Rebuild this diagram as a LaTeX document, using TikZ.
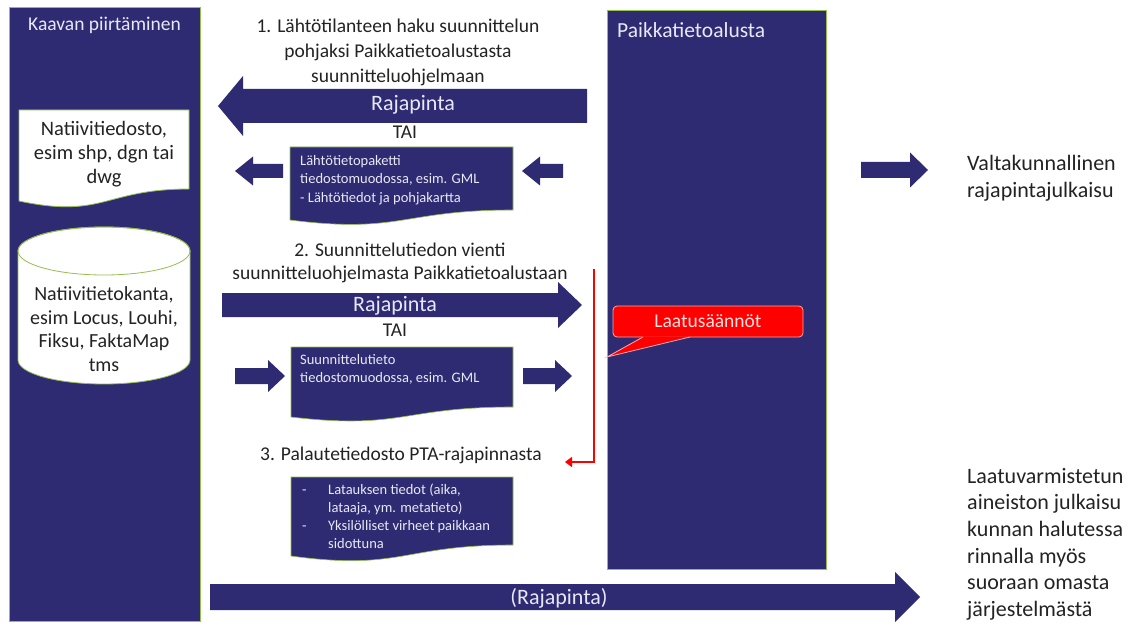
\documentclass[tikz,border=0pt]{standalone}
\usepackage{fontspec}
\setmainfont{Carlito}
\usetikzlibrary{arrows.meta}
\definecolor{navy}{RGB}{46,43,115}
\definecolor{edgegreen}{RGB}{150,190,80}
\definecolor{calloutred}{RGB}{255,0,0}
\definecolor{calloutedge}{RGB}{245,170,170}
\definecolor{txt}{RGB}{35,35,35}
\definecolor{ltxt}{RGB}{232,232,245}
\newcommand\blockarrow[6]{%
  \pgfmathsetmacro\bkx{#2-(#6)*sign(#2-#1)}%
  \fill[navy] (#1,#3-#4) -- (\bkx,#3-#4) -- (\bkx,#3-#5) -- (#2,#3) -- (\bkx,#3+#5) -- (\bkx,#3+#4) -- (#1,#3+#4) -- cycle;}
\newcommand\docpath[7]{% style, x1, x2, top, yright, yleft, c2
  \path[#1] (#2,#4) -- (#3,#4) -- (#3,#5) .. controls ({(#2+#3)/2},#5) and ({(#2+#3)/2},#7) .. (#2,#6) -- cycle;}
\begin{document}
\begin{tikzpicture}[x=1pt,y=-1pt,
  panel/.style={fill=navy,draw=edgegreen,line width=0.7pt},
  whitedoc/.style={fill=white,draw=edgegreen,line width=0.8pt},
  navydoc/.style={fill=navy,draw=edgegreen,line width=0.6pt},
  hdr/.style={inner sep=0pt,align=center,text=txt,font=\fontsize{19.5}{25}\selectfont},
  ptitle/.style={inner sep=0pt,anchor=west,text=ltxt},
  arrlabel/.style={inner sep=0pt,text=ltxt,font=\fontsize{22}{26}\selectfont},
  small/.style={inner sep=0pt,anchor=north west,align=left,text=ltxt,font=\fontsize{14.5}{18.5}\selectfont},
  bigtxt/.style={inner sep=0pt,align=center,text=txt,font=\fontsize{20.5}{24}\selectfont},
  side/.style={inner sep=0pt,anchor=north west,align=left,text=txt,font=\fontsize{22}{26.6}\selectfont},
  laatu/.style={fill=calloutred,draw=calloutedge,line width=0.8pt,rounded corners=4pt,minimum width=190pt,minimum height=31pt,inner sep=0pt,text={rgb,255:red,255;green,225;blue,225},font=\fontsize{19.5}{22}\selectfont},
  redline/.style={draw=calloutred,line width=2.7pt,-{Triangle[length=7pt,width=10pt]}}
]
\useasboundingbox (0,0) rectangle (1140,628);
\fill[white] (0,0) rectangle (1140,628);

% columns
\path[panel] (9,7) rectangle (200,621);
\node[ptitle,font=\fontsize{19.5}{22}\selectfont] (kaava) at (28,25) {Kaavan piirtäminen};
\path[panel] (607,10) rectangle (826,569);
\node[ptitle,font=\fontsize{21.5}{24}\selectfont] (pta) at (617,30) {Paikkatietoalusta};

% native file document
\docpath{whitedoc}{19}{189}{110}{189}{201}{219}
\node[bigtxt] (natfile) at (104,154) {Natiivitiedosto,\\esim shp, dgn tai\\dwg};

% native database cylinder
\path[whitedoc] (18,251) -- (18,360) arc[start angle=180,end angle=0,x radius=86,y radius=24]
  -- (190,251) arc[start angle=0,end angle=-180,x radius=86,y radius=24] -- cycle;
\draw[edgegreen,line width=0.8pt] (104,251) ellipse[x radius=86,y radius=24];
\node[bigtxt,font=\fontsize{20}{23.5}\selectfont] (natdb) at (104,329) {Natiivitietokanta,\\esim Locus, Louhi,\\Fiksu, FaktaMap\\tms};

% step 1
\node[hdr] (h1) at (398,52) {1. Lähtötilanteen haku suunnittelun\\pohjaksi Paikkatietoalustasta\\suunnitteluohjelmaan};
\blockarrow{587}{218}{106}{17}{30}{25}
\node[arrlabel] (raja1) at (413,105) {Rajapinta};
\node[hdr] (tai1) at (405,132) {TAI};
\docpath{navydoc}{290}{513}{147}{210}{220}{234}
\node[small] (pkg) at (300,155) {Lähtötietopaketti\\tiedostomuodossa, esim. GML\\- Lähtötiedot ja pohjakartta};
\blockarrow{283}{235}{171}{7}{14.5}{18}
\blockarrow{563}{522}{171}{7}{14.5}{18}

% step 2
\node[hdr,font=\fontsize{19.5}{23}\selectfont] (h2) at (400,263) {2. Suunnittelutiedon vienti\\suunnitteluohjelmasta Paikkatietoalustaan};
\blockarrow{222}{582}{305}{12}{23}{24}
\node[arrlabel] (raja2) at (395,306) {Rajapinta};
\node[hdr] (tai2) at (395,330) {TAI};
\docpath{navydoc}{291}{513}{347}{407}{417}{430}
\node[small] (plan) at (300,354) {Suunnittelutieto\\tiedostomuodossa, esim. GML};
\blockarrow{235}{285}{376}{8}{16}{17}
\blockarrow{523}{572}{376}{8}{16}{17}

% quality rules
\coordinate (rtop) at (594,269);
\coordinate (rbend) at (594,462);
\coordinate (rend) at (565,462);
\draw[redline] (rtop) -- (rbend) -- (rend);
\node[laatu] (laatu) at (708,321.5) {Laatusäännöt};
\fill[calloutred] (643,336.3) -- (607,357) -- (690,336.3) -- cycle;
\draw[calloutedge,line width=0.8pt] (643,337) -- (607,357) -- (690,337);

% step 3
\node[hdr] (h3) at (401,455) {3. Palautetiedosto PTA-rajapinnasta};
\docpath{navydoc}{291}{513}{477}{545}{556}{571}
\node[small,font=\fontsize{14.5}{18}\selectfont] (fb) at (302,484) {\makebox[26pt][l]{-}Latauksen tiedot (aika,\\\hspace*{26pt}lataaja, ym. metatieto)\\\makebox[26pt][l]{-}Yksilölliset virheet paikkaan\\\hspace*{26pt}sidottuna};

% bottom arrow
\blockarrow{210}{920}{597}{13}{25}{25}
\node[arrlabel] (raja3) at (559,598) {(Rajapinta)};

% national publication
\blockarrow{861}{928}{170}{8}{17.5}{18}
\node[side] (valta) at (967,155) {Valtakunnallinen\\rajapintajulkaisu};
\node[side] (laatuv) at (967,468) {Laatuvarmistetun\\aineiston julkaisu\\kunnan halutessa\\rinnalla myös\\suoraan omasta\\järjestelmästä};
\end{tikzpicture}
\end{document}
